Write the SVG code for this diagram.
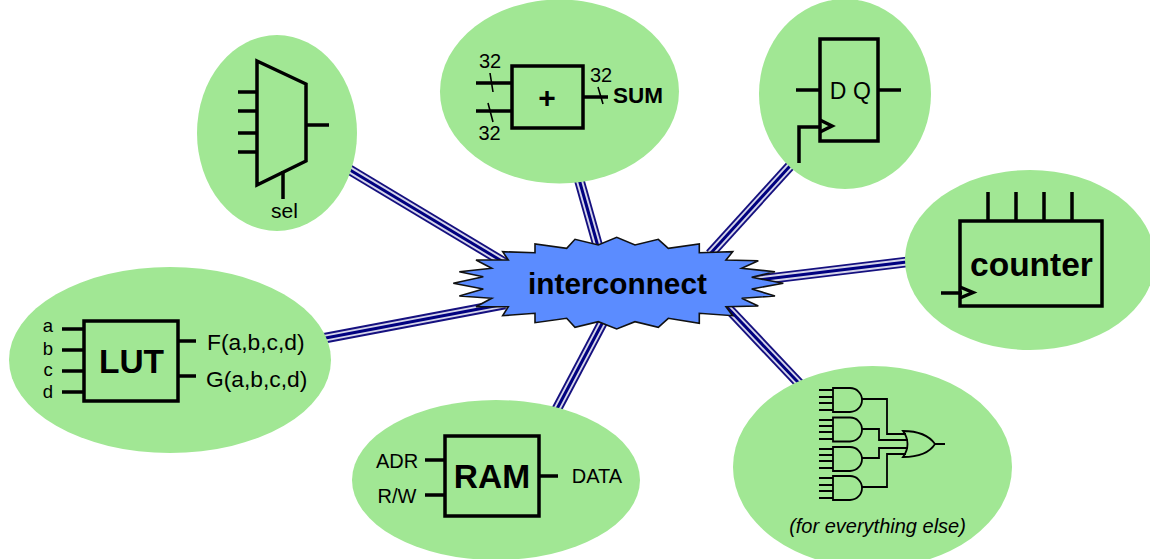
<svg xmlns="http://www.w3.org/2000/svg" width="1150" height="559" viewBox="0 0 1150 559">
<style>
.bub{fill:#a1e794}
.w{fill:none;stroke:#000;stroke-width:3.5}
.t{fill:none;stroke:#000;stroke-width:1.8}
.s{fill:none;stroke:#000;stroke-width:1.6}
.a{fill:none;stroke:#15107f;stroke-width:10.5}
.b{fill:none;stroke:#d5d5ea;stroke-width:6.8}
.c{fill:none;stroke:#000080;stroke-width:3}
text{font-family:"Liberation Sans",Arial,sans-serif;fill:#000}
.big{font-weight:bold;font-size:33.5px}
</style>
<rect width="1150" height="559" fill="#fff"/>
<g id="connectors">
<g><path class="a" d="M340 164L505 263"/><path class="b" d="M340 164L505 263"/><path class="c" d="M340 164L505 263"/></g>
<g><path class="a" d="M575 165L599 250"/><path class="b" d="M575 165L599 250"/><path class="c" d="M575 165L599 250"/></g>
<g><path class="a" d="M800 155L710 254"/><path class="b" d="M800 155L710 254"/><path class="c" d="M800 155L710 254"/></g>
<g><path class="a" d="M915 261L750 281"/><path class="b" d="M915 261L750 281"/><path class="c" d="M915 261L750 281"/></g>
<g><path class="a" d="M315 340L505 304"/><path class="b" d="M315 340L505 304"/><path class="c" d="M315 340L505 304"/></g>
<g><path class="a" d="M605 318L550 422"/><path class="b" d="M605 318L550 422"/><path class="c" d="M605 318L550 422"/></g>
<g><path class="a" d="M725 305L812 397"/><path class="b" d="M725 305L812 397"/><path class="c" d="M725 305L812 397"/></g>
</g>
<g id="interconnect">
<polygon fill="#5b8cff" stroke="#111" stroke-width="1.6" points="459.3,271.7 483.3,276.7 453.3,283.3 483.3,289 459.3,296 491.7,298.3 476,306.7 508.3,306.7 502.7,315.7 535,313.3 535,322.7 566.7,318.3 575,327.3 598.3,321.7 616.7,329 635,321.7 658.3,327.3 668.3,318.3 699.3,323.3 699.3,313.3 732.7,315.7 726,306.7 758.3,306 741.7,298.3 775,296 751.7,289 783.3,283.3 751.7,277.3 775,271.7 741.7,268.3 758.3,260.7 726,260 732.7,251.7 699.3,252.7 699.3,244 668.3,248.3 658.3,239.3 635,245 616.7,237.3 598.3,245 575,239.3 566.7,248.3 535,244 535,252.7 502.7,251.7 508.3,260 476,260 491.7,268.3"/>
<text x="617.500" y="294" text-anchor="middle" font-size="29.800" font-weight="bold">interconnect</text>
</g>
<g id="mux">
<ellipse class="bub" cx="277" cy="133" rx="80" ry="98"/>
<path class="w" d="M257 61L306 84V161L257 185Z"/>
<path class="w" d="M238 92H257M238 111H257M238 133H257M238 152H257M306 125H329M283 171V199"/>
<text x="284.500" y="218" text-anchor="middle" font-size="21">sel</text>
</g>
<g id="adder">
<ellipse class="bub" cx="559.500" cy="91.500" rx="119.500" ry="92"/>
<rect class="w" x="512" y="66" width="71" height="62"/>
<path class="w" d="M476 83H512M476 111H512M583 97H608"/>
<path class="s" d="M490 73L493 92M488 103L493 122M598 87L603 104"/>
<text x="490" y="68" text-anchor="middle" font-size="20">32</text>
<text x="489.500" y="140" text-anchor="middle" font-size="20">32</text>
<text x="601" y="82" text-anchor="middle" font-size="20">32</text>
<text x="547" y="108" text-anchor="middle" font-size="30" font-weight="bold">+</text>
<text x="613" y="103" font-size="22.500" font-weight="bold">SUM</text>
</g>
<g id="dff">
<ellipse class="bub" cx="845" cy="94" rx="86" ry="95"/>
<rect class="w" x="820" y="39" width="58" height="102"/>
<path class="w" d="M796 90H820M878 90H901M799 163V127H820M820 120L832 126L820 132"/>
<text x="838" y="99" text-anchor="middle" font-size="23">D</text>
<text x="862" y="99" text-anchor="middle" font-size="23">Q</text>
</g>
<g id="counter">
<ellipse class="bub" cx="1030" cy="260" rx="125" ry="90"/>
<rect class="w" x="960" y="221" width="142" height="85"/>
<path class="w" d="M988 192V221M1016 192V221M1044 192V221M1072 192V221M941 293H962M960 287L973 292.500L960 298"/>
<text x="1031.500" y="276" text-anchor="middle" class="big">counter</text>
</g>
<g id="lut">
<ellipse class="bub" cx="170" cy="360" rx="161" ry="93"/>
<rect class="w" x="84" y="321" width="94" height="80"/>
<path class="w" d="M62 329H84M62 350H84M62 371H84M62 392H84M178 341H196M178 376H196"/>
<text x="48" y="332" text-anchor="middle" font-size="18.500">a</text>
<text x="48" y="355" text-anchor="middle" font-size="18.500">b</text>
<text x="48" y="376" text-anchor="middle" font-size="18.500">c</text>
<text x="48" y="398" text-anchor="middle" font-size="18.500">d</text>
<text x="131.500" y="373" text-anchor="middle" class="big">LUT</text>
<text x="207" y="350" font-size="22.800">F(a,b,c,d)</text>
<text x="206" y="387" font-size="22.800">G(a,b,c,d)</text>
</g>
<g id="ram">
<ellipse class="bub" cx="496" cy="480" rx="144" ry="80"/>
<rect class="w" x="445" y="436" width="94" height="80"/>
<path class="w" d="M425 460H445M425 495H445M539 476H558"/>
<text x="397" y="468" text-anchor="middle" font-size="20">ADR</text>
<text x="397" y="503" text-anchor="middle" font-size="20">R/W</text>
<text x="492" y="488" text-anchor="middle" class="big">RAM</text>
<text x="597" y="483" text-anchor="middle" font-size="20">DATA</text>
</g>
<g id="logic">
<ellipse class="bub" cx="872.500" cy="467" rx="139.500" ry="101"/>
<path class="t" d="M833 388H850A12 12 0 0 1 850 412H833ZM833 417.500H850A12 12 0 0 1 850 441.500H833ZM833 447H850A12 12 0 0 1 850 471H833ZM833 476H850A12 12 0 0 1 850 500H833Z"/>
<path class="t" d="M819 390H833M819 397H833M819 403H833M819 410H833M819 420H833M819 426H833M819 432H833M819 439H833M819 449H833M819 455H833M819 461H833M819 468H833M819 478H833M819 485H833M819 491H833M819 498H833"/>
<path class="t" d="M862 399H887V434H906M862 429H879V440H908M862 458H879V448H908M862 487H887V454H906M903 431C920 431 930 437 935 444C930 452 920 457 903 457C909 449 909 439 903 431ZM935 444H945"/>
<text x="877.500" y="533" text-anchor="middle" font-size="20" font-style="italic">(for everything else)</text>
</g>
</svg>
